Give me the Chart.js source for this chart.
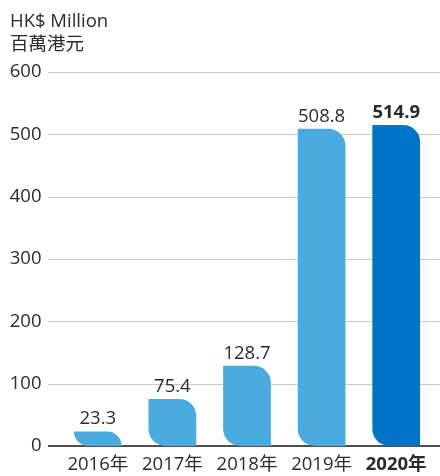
<!DOCTYPE html>
<html>
<head>
<meta charset="utf-8">
<script src="https://cdn.jsdelivr.net/npm/chart.js@4"></script>
<style>
  html, body { margin: 0; padding: 0; background: #fff; }
</style>
</head>
<body>
<canvas id="revenueChart" width="440" height="476"></canvas>
<script>
const years = ['2016年', '2017年', '2018年', '2019年', '2020年'];
const revenue = [23.3, 75.4, 128.7, 508.8, 514.9];
const yMax = 600;
const yStep = 100;
const unitLines = ['HK$ Million', '百萬港元'];

const FONT = "'Open Sans', 'Noto Sans CJK TC', sans-serif";
const SIZE = 18.5;
const TEXT = '#2B2B2B';
const LIGHT_BLUE = '#4BAAE0';
const DARK_BLUE = '#0075C8';
const CORNER = 17;
const last = revenue.length - 1;

// bar with rounded top-right and bottom-left corners; the radius is allowed
// to reach the full bar height so short bars keep the leaf shape
class LeafBar extends Chart.BarElement {
    draw(ctx) {
        const { x, y, base, width } = this.getProps(['x', 'y', 'base', 'width']);
        const left = x - width / 2;
        const right = x + width / 2;
        const top = Math.min(y, base);
        const bottom = Math.max(y, base);
        const r = Math.min(CORNER, width / 2, bottom - top);
        ctx.save();
        ctx.fillStyle = this.options.backgroundColor;
        ctx.beginPath();
        ctx.moveTo(left, top);
        ctx.lineTo(right - r, top);
        ctx.arcTo(right, top, right, top + r, r);
        ctx.lineTo(right, bottom);
        ctx.lineTo(left + r, bottom);
        ctx.arcTo(left, bottom, left, bottom - r, r);
        ctx.closePath();
        ctx.fill();
        ctx.restore();
    }
}
LeafBar.id = 'leafBar';

class LeafBarController extends Chart.BarController {}
LeafBarController.id = 'leafBarChart';
LeafBarController.defaults = { ...Chart.BarController.defaults, dataElementType: 'leafBar' };
LeafBarController.overrides = Chart.BarController.overrides;

Chart.register(LeafBar, LeafBarController);

// horizontal rules run a bit past the plot on both sides
const gridRules = {
    id: 'gridRules',
    beforeDatasetsDraw(chart) {
        const { ctx } = chart;
        const y = chart.scales.y;
        ctx.save();
        y.ticks.forEach(t => {
            const zero = t.value === 0;
            const py = Math.round(y.getPixelForValue(t.value)) + (zero ? 0 : 0.5);
            ctx.strokeStyle = zero ? '#505050' : '#C8C8C8';
            ctx.lineWidth = zero ? 2 : 1;
            ctx.beginPath();
            ctx.moveTo(48, py);
            ctx.lineTo(chart.width, py);
            ctx.stroke();
        });
        ctx.restore();
    }
};

// value printed above each bar
const valueLabels = {
    id: 'valueLabels',
    afterDatasetsDraw(chart) {
        const { ctx } = chart;
        const meta = chart.getDatasetMeta(0);
        ctx.save();
        ctx.textAlign = 'center';
        ctx.textBaseline = 'alphabetic';
        ctx.fillStyle = TEXT;
        meta.data.forEach((bar, i) => {
            ctx.font = `${i === last ? 'bold ' : ''}${SIZE}px ${FONT}`;
            ctx.fillText(revenue[i].toFixed(1), bar.x, bar.y - 7);
        });
        ctx.restore();
    }
};

const ctx = document.getElementById('revenueChart').getContext('2d');
new Chart(ctx, {
    type: 'leafBarChart',
    data: {
        labels: years,
        datasets: [{
            data: revenue,
            backgroundColor: revenue.map((v, i) => i === last ? DARK_BLUE : LIGHT_BLUE),
            barPercentage: 0.64,
            categoryPercentage: 1
        }]
    },
    options: {
        responsive: false,
        animation: false,
        devicePixelRatio: 1,
        layout: { padding: { left: 10, right: 6.5, top: 0, bottom: 0 } },
        plugins: {
            legend: { display: false },
            tooltip: { enabled: false },
            title: {
                display: true,
                text: unitLines,
                align: 'start',
                color: TEXT,
                font: { family: FONT, size: SIZE, weight: 'normal', lineHeight: 1.26 },
                padding: { top: 9.8, bottom: 15.6 }
            }
        },
        scales: {
            x: {
                type: 'category',
                grid: { display: false, drawTicks: false },
                border: { display: false },
                ticks: {
                    color: TEXT,
                    padding: 8,
                    font: c => ({ family: FONT, size: SIZE, weight: c.index === last ? 'bold' : 'normal' })
                },
                afterFit(s) { s.height = 28; }
            },
            y: {
                type: 'linear',
                min: 0,
                max: yMax,
                ticks: {
                    stepSize: yStep,
                    color: TEXT,
                    padding: 19,
                    font: { family: FONT, size: SIZE }
                },
                grid: { display: false, drawTicks: false },
                border: { display: false },
                afterFit(s) { s.width = 50.5; }
            }
        }
    },
    plugins: [gridRules, valueLabels]
});
</script>
</body>
</html>
